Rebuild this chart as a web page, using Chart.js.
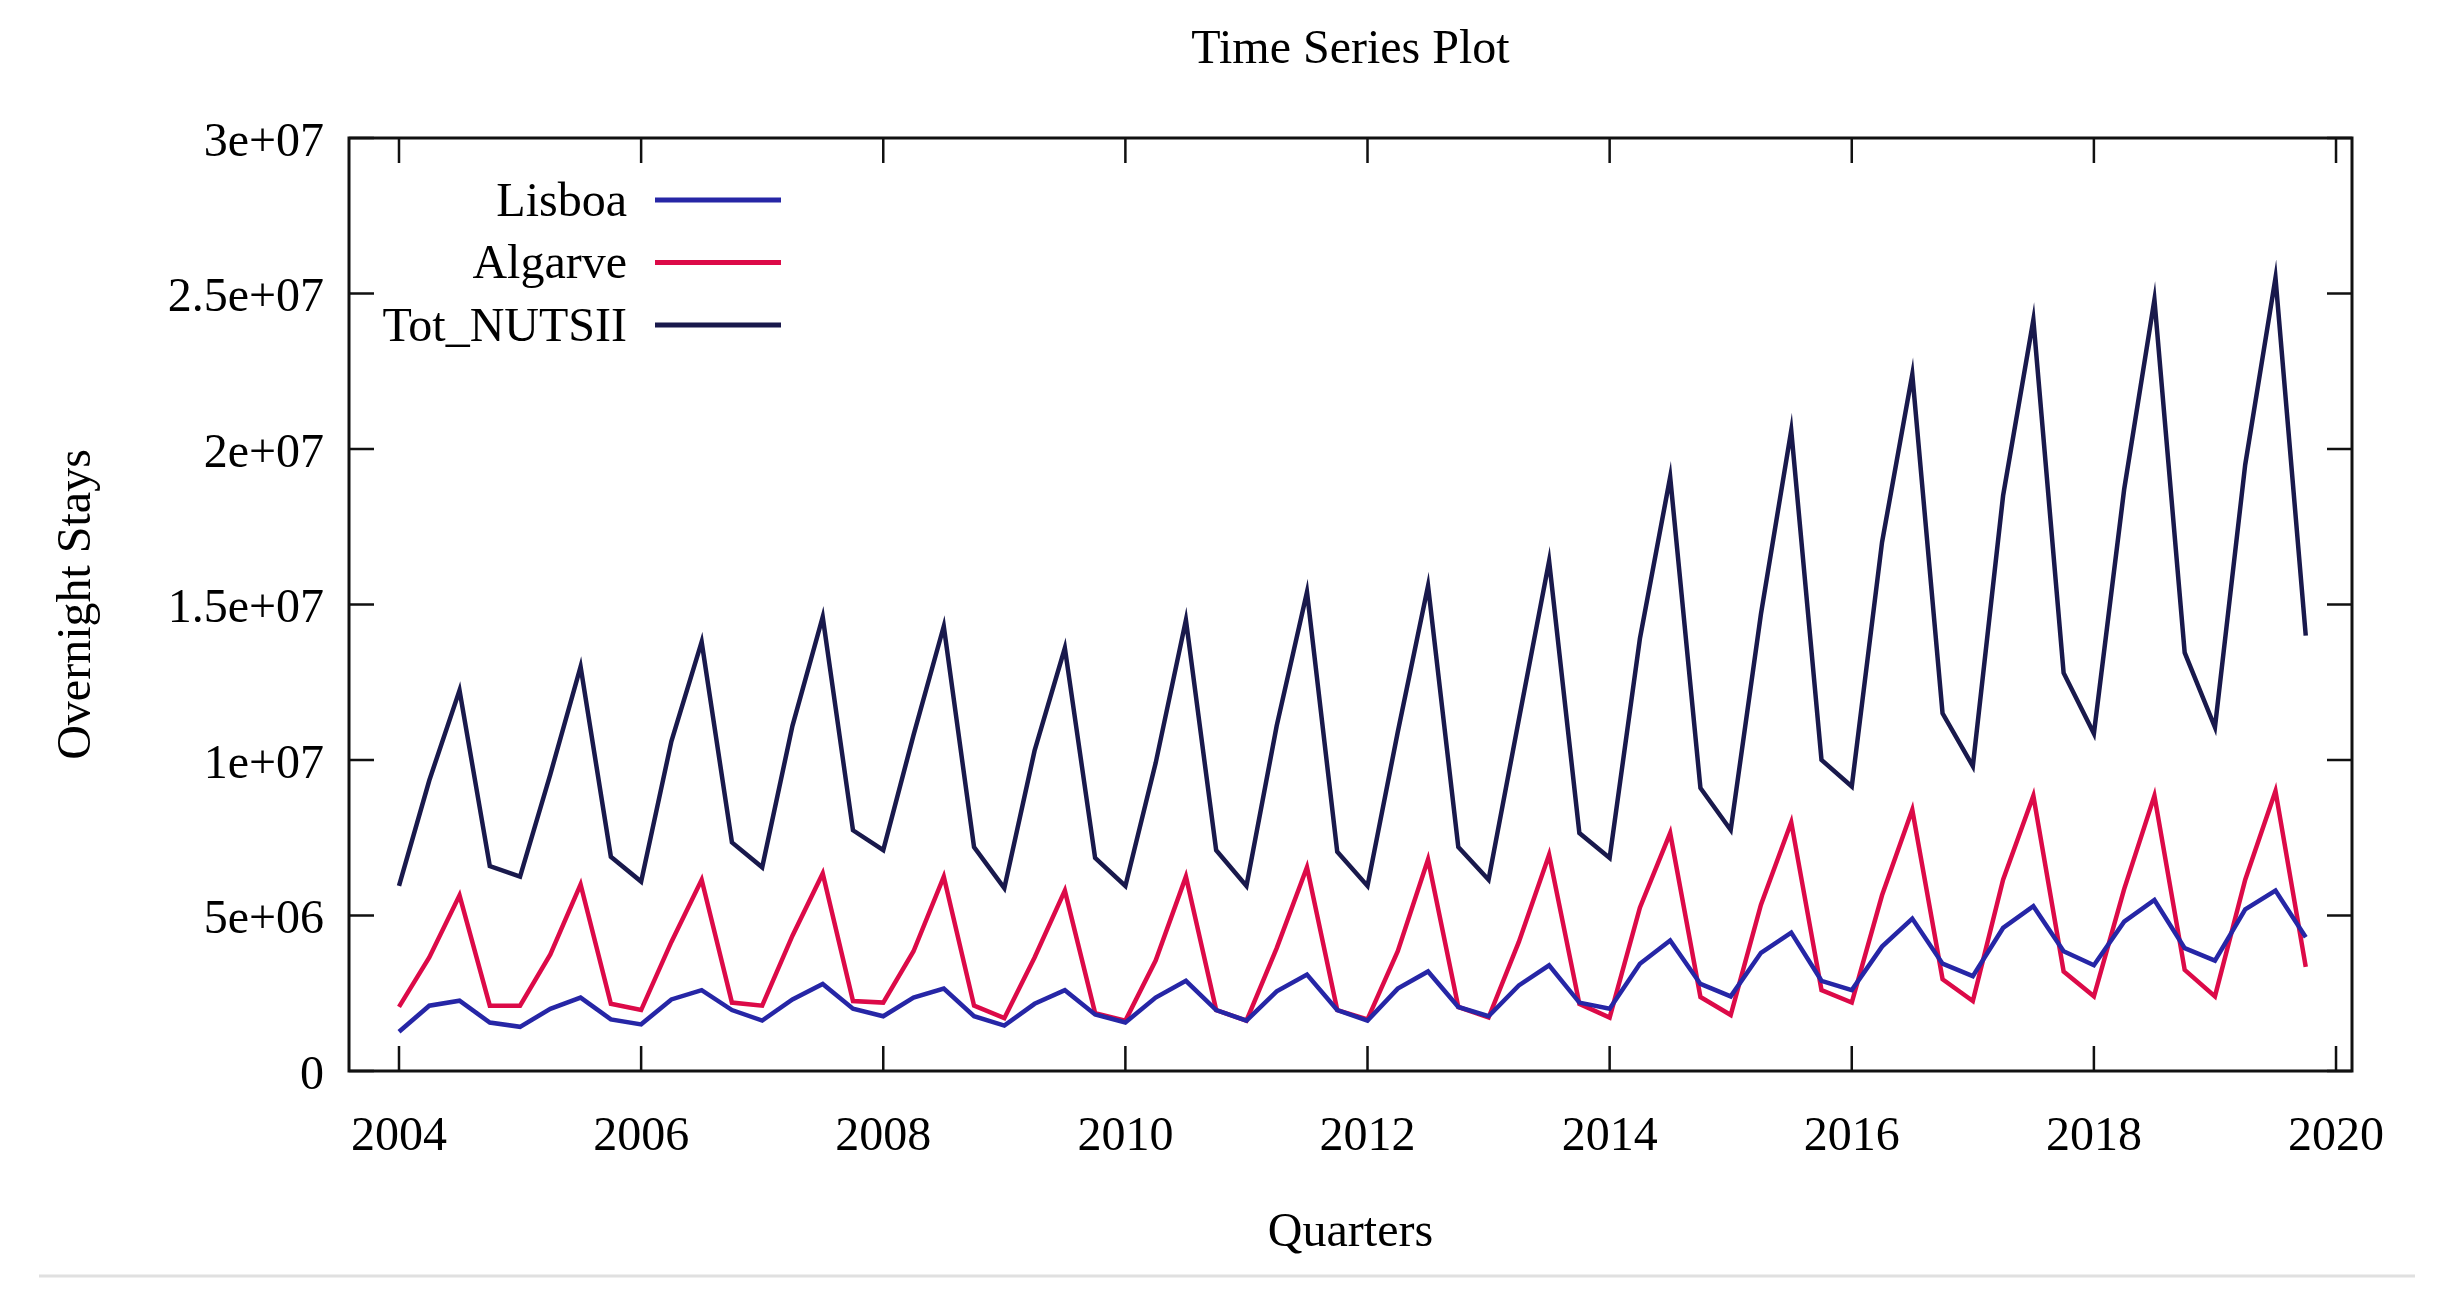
<!DOCTYPE html>
<html>
<head>
<meta charset="utf-8">
<title>Time Series Plot</title>
<script src="https://cdn.jsdelivr.net/npm/chart.js@4.4.1/dist/chart.umd.min.js"></script>
<style>
  html, body { margin: 0; padding: 0; background: #fff; }
</style>
</head>
<body>
<canvas id="myChart" width="2462" height="1310"></canvas>
<script>
'use strict'

// quarters 2004Q1 .. 2019Q4
const years = [2004, 2005, 2006, 2007, 2008, 2009, 2010, 2011, 2012, 2013, 2014, 2015, 2016, 2017, 2018, 2019];
const quarterOffsets = [0, 0.25, 0.5, 0.75];

// overnight stays, in millions
const lisboaMillions = [
  1.26, 2.10, 2.26, 1.56,
  1.42, 2.00, 2.36, 1.66,
  1.50, 2.30, 2.60, 1.96,
  1.62, 2.30, 2.80, 2.00,
  1.76, 2.36, 2.65, 1.76,
  1.46, 2.16, 2.60, 1.82,
  1.56, 2.36, 2.90, 1.96,
  1.62, 2.56, 3.10, 1.96,
  1.62, 2.65, 3.20, 2.06,
  1.76, 2.75, 3.40, 2.20,
  2.00, 3.45, 4.20, 2.80,
  2.40, 3.80, 4.45, 2.90,
  2.60, 4.00, 4.90, 3.45,
  3.05, 4.60, 5.30, 3.85,
  3.40, 4.80, 5.50, 3.95,
  3.55, 5.20, 5.80, 4.30
];

const algarveMillions = [
  2.06, 3.65, 5.65, 2.10,
  2.10, 3.75, 6.00, 2.16,
  1.96, 4.15, 6.15, 2.20,
  2.10, 4.35, 6.35, 2.25,
  2.20, 3.85, 6.25, 2.10,
  1.70, 3.65, 5.80, 1.86,
  1.62, 3.55, 6.25, 1.96,
  1.62, 3.95, 6.55, 1.96,
  1.66, 3.85, 6.80, 2.06,
  1.72, 4.15, 6.95, 2.16,
  1.72, 5.25, 7.65, 2.38,
  1.80, 5.35, 8.00, 2.60,
  2.20, 5.65, 8.40, 2.95,
  2.25, 6.15, 8.85, 3.20,
  2.40, 5.85, 8.85, 3.25,
  2.40, 6.15, 9.00, 3.35
];

const totNutsMillions = [
  5.95, 9.34, 12.24, 6.59,
  6.25, 9.54, 13.00, 6.89,
  6.09, 10.60, 13.80, 7.35,
  6.55, 11.10, 14.60, 7.74,
  7.10, 10.80, 14.30, 7.20,
  5.88, 10.30, 13.60, 6.85,
  5.95, 9.90, 14.50, 7.10,
  5.95, 11.10, 15.40, 7.05,
  5.95, 10.90, 15.60, 7.20,
  6.15, 11.30, 16.40, 7.65,
  6.85, 13.90, 19.10, 9.10,
  7.75, 14.70, 20.60, 10.00,
  9.15, 17.00, 22.40, 11.50,
  9.80, 18.50, 24.15, 12.80,
  10.85, 18.70, 24.80, 13.45,
  11.05, 19.50, 25.50, 14.00
];

const seriesNames = ['Lisboa', 'Algarve', 'Tot_NUTSII'];
const seriesColors = ['#2626a6', '#dc0a48', '#19194c'];

const xTickValues = [2004, 2006, 2008, 2010, 2012, 2014, 2016, 2018, 2020];
const yTickValues = [0, 5e6, 1e7, 1.5e7, 2e7, 2.5e7, 3e7];
const yTickLabels = ['0', '5e+06', '1e+07', '1.5e+07', '2e+07', '2.5e+07', '3e+07'];

const serif = '"Liberation Serif", "Times New Roman", serif';
const fontSize = 48;

let quarters = [];
for (let y of years) {
  for (let q of quarterOffsets) {
    quarters.push(y + q);
  }
}

function toPoints(values){
  return values.map((v, i) => ({x: quarters[i], y: v * 1e6}));
}

const allSeries = [lisboaMillions, algarveMillions, totNutsMillions];

// title, frame with inward ticks, legend inside plot, bottom rule
const decorPlugin = {
  id: 'decor',
  afterDatasetsDraw(chart){
    const {ctx, chartArea: a, scales} = chart;
    const x = scales.x;
    const y = scales.y;
    const tl = 25;
    ctx.save();
    ctx.strokeStyle = '#111';
    ctx.lineWidth = 2.5;
    ctx.beginPath();
    for (let v of xTickValues){
      const px = x.getPixelForValue(v);
      ctx.moveTo(px, a.bottom);
      ctx.lineTo(px, a.bottom - tl);
      ctx.moveTo(px, a.top);
      ctx.lineTo(px, a.top + tl);
    }
    for (let v of yTickValues){
      const py = y.getPixelForValue(v);
      ctx.moveTo(a.left, py);
      ctx.lineTo(a.left + tl, py);
      ctx.moveTo(a.right, py);
      ctx.lineTo(a.right - tl, py);
    }
    ctx.stroke();
    ctx.lineWidth = 3;
    ctx.strokeRect(a.left, a.top, a.right - a.left, a.bottom - a.top);

    // legend
    ctx.font = fontSize + 'px ' + serif;
    ctx.textAlign = 'right';
    ctx.textBaseline = 'middle';
    chart.data.datasets.forEach((ds, i) => {
      const rowY = a.top + 65 + i * 62.5;
      ctx.fillStyle = '#000';
      ctx.fillText(ds.label, a.left + 278, rowY);
      ctx.strokeStyle = ds.borderColor;
      ctx.lineWidth = 5;
      ctx.beginPath();
      ctx.moveTo(a.left + 306, rowY - 3);
      ctx.lineTo(a.left + 432, rowY - 3);
      ctx.stroke();
    });

    // title
    ctx.textAlign = 'center';
    ctx.fillStyle = '#000';
    ctx.fillText('Time Series Plot', (a.left + a.right) / 2, 50);

    // light rule at the bottom
    ctx.strokeStyle = '#e0e0e0';
    ctx.lineWidth = 3;
    ctx.beginPath();
    ctx.moveTo(39, 1276);
    ctx.lineTo(2415, 1276);
    ctx.stroke();
    ctx.restore();
  }
};

const ctx = document.getElementById('myChart').getContext('2d');

const myChart = new Chart(ctx, {
  type: 'line',
  data: {
    datasets: allSeries.map((values, i) => ({
      label: seriesNames[i],
      data: toPoints(values),
      borderColor: seriesColors[i],
      borderWidth: 4.5,
      pointRadius: 0,
      tension: 0,
      fill: false
    }))
  },
  options: {
    responsive: false,
    animation: false,
    devicePixelRatio: 1,
    layout: {
      padding: {top: 138, right: 110, left: 0, bottom: 0}
    },
    plugins: {
      legend: {display: false},
      title: {display: false},
      tooltip: {enabled: false}
    },
    scales: {
      x: {
        type: 'linear',
        min: 2003.587,
        max: 2020.132,
        afterBuildTicks: s => { s.ticks = xTickValues.map(v => ({value: v})); },
        afterFit: s => { s.height = 239; },
        grid: {display: false, drawTicks: false},
        border: {display: false},
        ticks: {
          autoSkip: false,
          maxRotation: 0,
          padding: 38,
          color: '#000',
          font: {family: serif, size: fontSize},
          callback: v => String(v)
        },
        title: {
          display: true,
          text: 'Quarters',
          color: '#000',
          font: {family: serif, size: fontSize},
          padding: {top: 0, bottom: 48}
        }
      },
      y: {
        min: 0,
        max: 3e7,
        afterBuildTicks: s => { s.ticks = yTickValues.map(v => ({value: v})); },
        afterFit: s => { s.width = 349; },
        grid: {display: false, drawTicks: false},
        border: {display: false},
        ticks: {
          padding: 25,
          labelOffset: 5,
          color: '#000',
          font: {family: serif, size: fontSize},
          callback: v => yTickLabels[yTickValues.indexOf(v)]
        },
        title: {
          display: true,
          text: 'Overnight Stays',
          color: '#000',
          font: {family: serif, size: fontSize},
          padding: {top: 49, bottom: 0}
        }
      }
    }
  },
  plugins: [decorPlugin]
});
</script>
</body>
</html>
